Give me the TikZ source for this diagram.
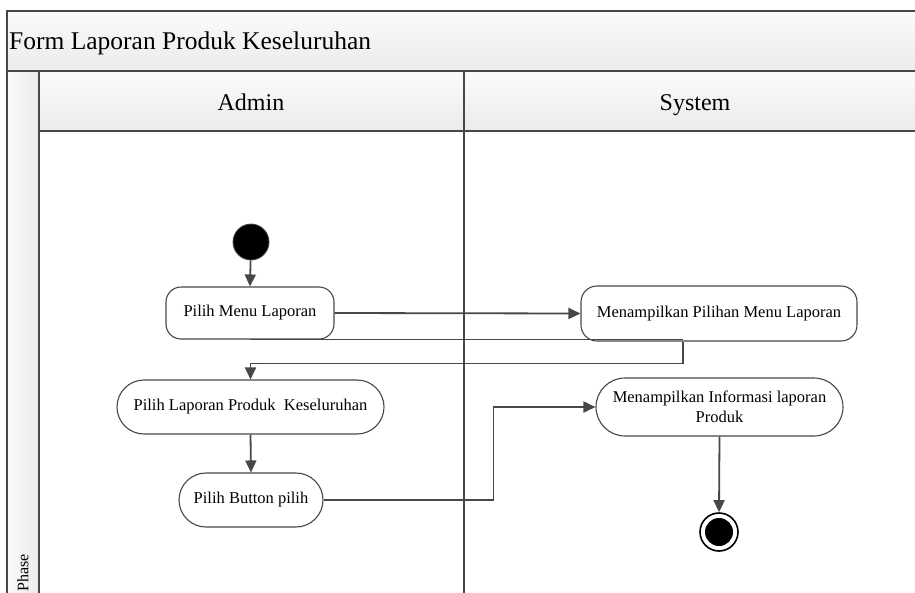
\documentclass[tikz,border=0pt]{standalone}
\usepackage{fontspec}
\setmainfont{Liberation Serif}
\usetikzlibrary{arrows.meta}
\definecolor{edge}{HTML}{474747}
\definecolor{hdrtop}{HTML}{FBFBFB}
\definecolor{hdrbot}{HTML}{EBEBEB}
\tikzset{
  frameline/.style={draw=edge, line width=1.8pt},
  hdr/.style={frameline, top color=hdrtop, bottom color=hdrbot},
  lanelabel/.style={anchor=base, inner sep=0pt, font=\fontsize{24}{28}\selectfont},
  action/.style={draw=edge, line width=1.1pt, fill=white, align=center,
    inner sep=0pt, font=\fontsize{16.5}{20}\selectfont},
  flow/.style={draw=edge, line width=1.8pt, -{Triangle[length=12pt,width=11pt]}},
  plain/.style={draw=edge, line width=1.8pt},
}
\begin{document}
\begin{tikzpicture}[x=1pt,y=-1pt]
\useasboundingbox (0,0) rectangle (915,592);
\clip (0,0) rectangle (915,592);

% pool frame and headers
\draw[frameline, fill=white] (7,11) rectangle (960,620);
\draw[hdr] (7,11) rectangle (960,71);
\node[anchor=base west, inner sep=0pt, font=\fontsize{25.5}{30}\selectfont] (title) at (9,49.5) {Form Laporan Produk Keseluruhan};
\draw[frameline, left color=hdrtop, right color=hdrbot] (7,71) rectangle (39,620);
\draw[hdr] (39,71) rectangle (960,131);
\draw[frameline] (464,71) -- (464,620);
\node[lanelabel] (admin) at (251,110) {Admin};
\node[lanelabel] (system) at (695,110) {System};
\node[rotate=90, anchor=west, inner sep=0pt, font=\fontsize{16}{19}\selectfont] (phase) at (23,592) {Phase};

% activity nodes
\node[circle, fill=black, draw=edge, line width=0.8pt, minimum size=36pt, inner sep=0pt] (start) at (251,242) {};
\node[action, rounded corners=15pt, minimum width=168pt, minimum height=52pt] (pm) at (250,313) {Pilih Menu Laporan};
\node[action, rounded corners=16pt, minimum width=276pt, minimum height=55pt] (mp) at (719,313.5) {Menampilkan Pilihan Menu Laporan};
\node[action, rounded corners=27pt, minimum width=267pt, minimum height=54pt] (pl) at (250.5,407) {Pilih Laporan Produk\ \ Keseluruhan};
\node[action, rounded corners=27pt, minimum width=144pt, minimum height=54pt] (pb) at (251,500) {Pilih Button pilih};
\node[action, rounded corners=29pt, minimum width=247pt, minimum height=58pt, font=\fontsize{16.5}{19.5}\selectfont] (mi) at (719.5,407) {Menampilkan Informasi laporan\\Produk};
\node[circle, draw=black, line width=1.6pt, fill=white, minimum size=38pt, inner sep=0pt] (end) at (719,532) {};
\fill[black] (end.center) circle (14pt);

% control flow
\coordinate (mpj) at ([xshift=-36pt]mp.south);
\draw[flow] (start) -- (pm.north);
\draw[flow] (pm.east) -- (mp.west);
\draw[plain] (pm.south) -- (pm.south -| mpj);
\draw[flow] (mpj) -- ++(0,22) -| (pl.north);
\draw[flow] (pl.south) -- (pb.north);
\draw[flow] (pb.east) -- ++(170,0) |- (mi.west);
\draw[flow] (mi.south) -- (end.north);
\end{tikzpicture}
\end{document}
